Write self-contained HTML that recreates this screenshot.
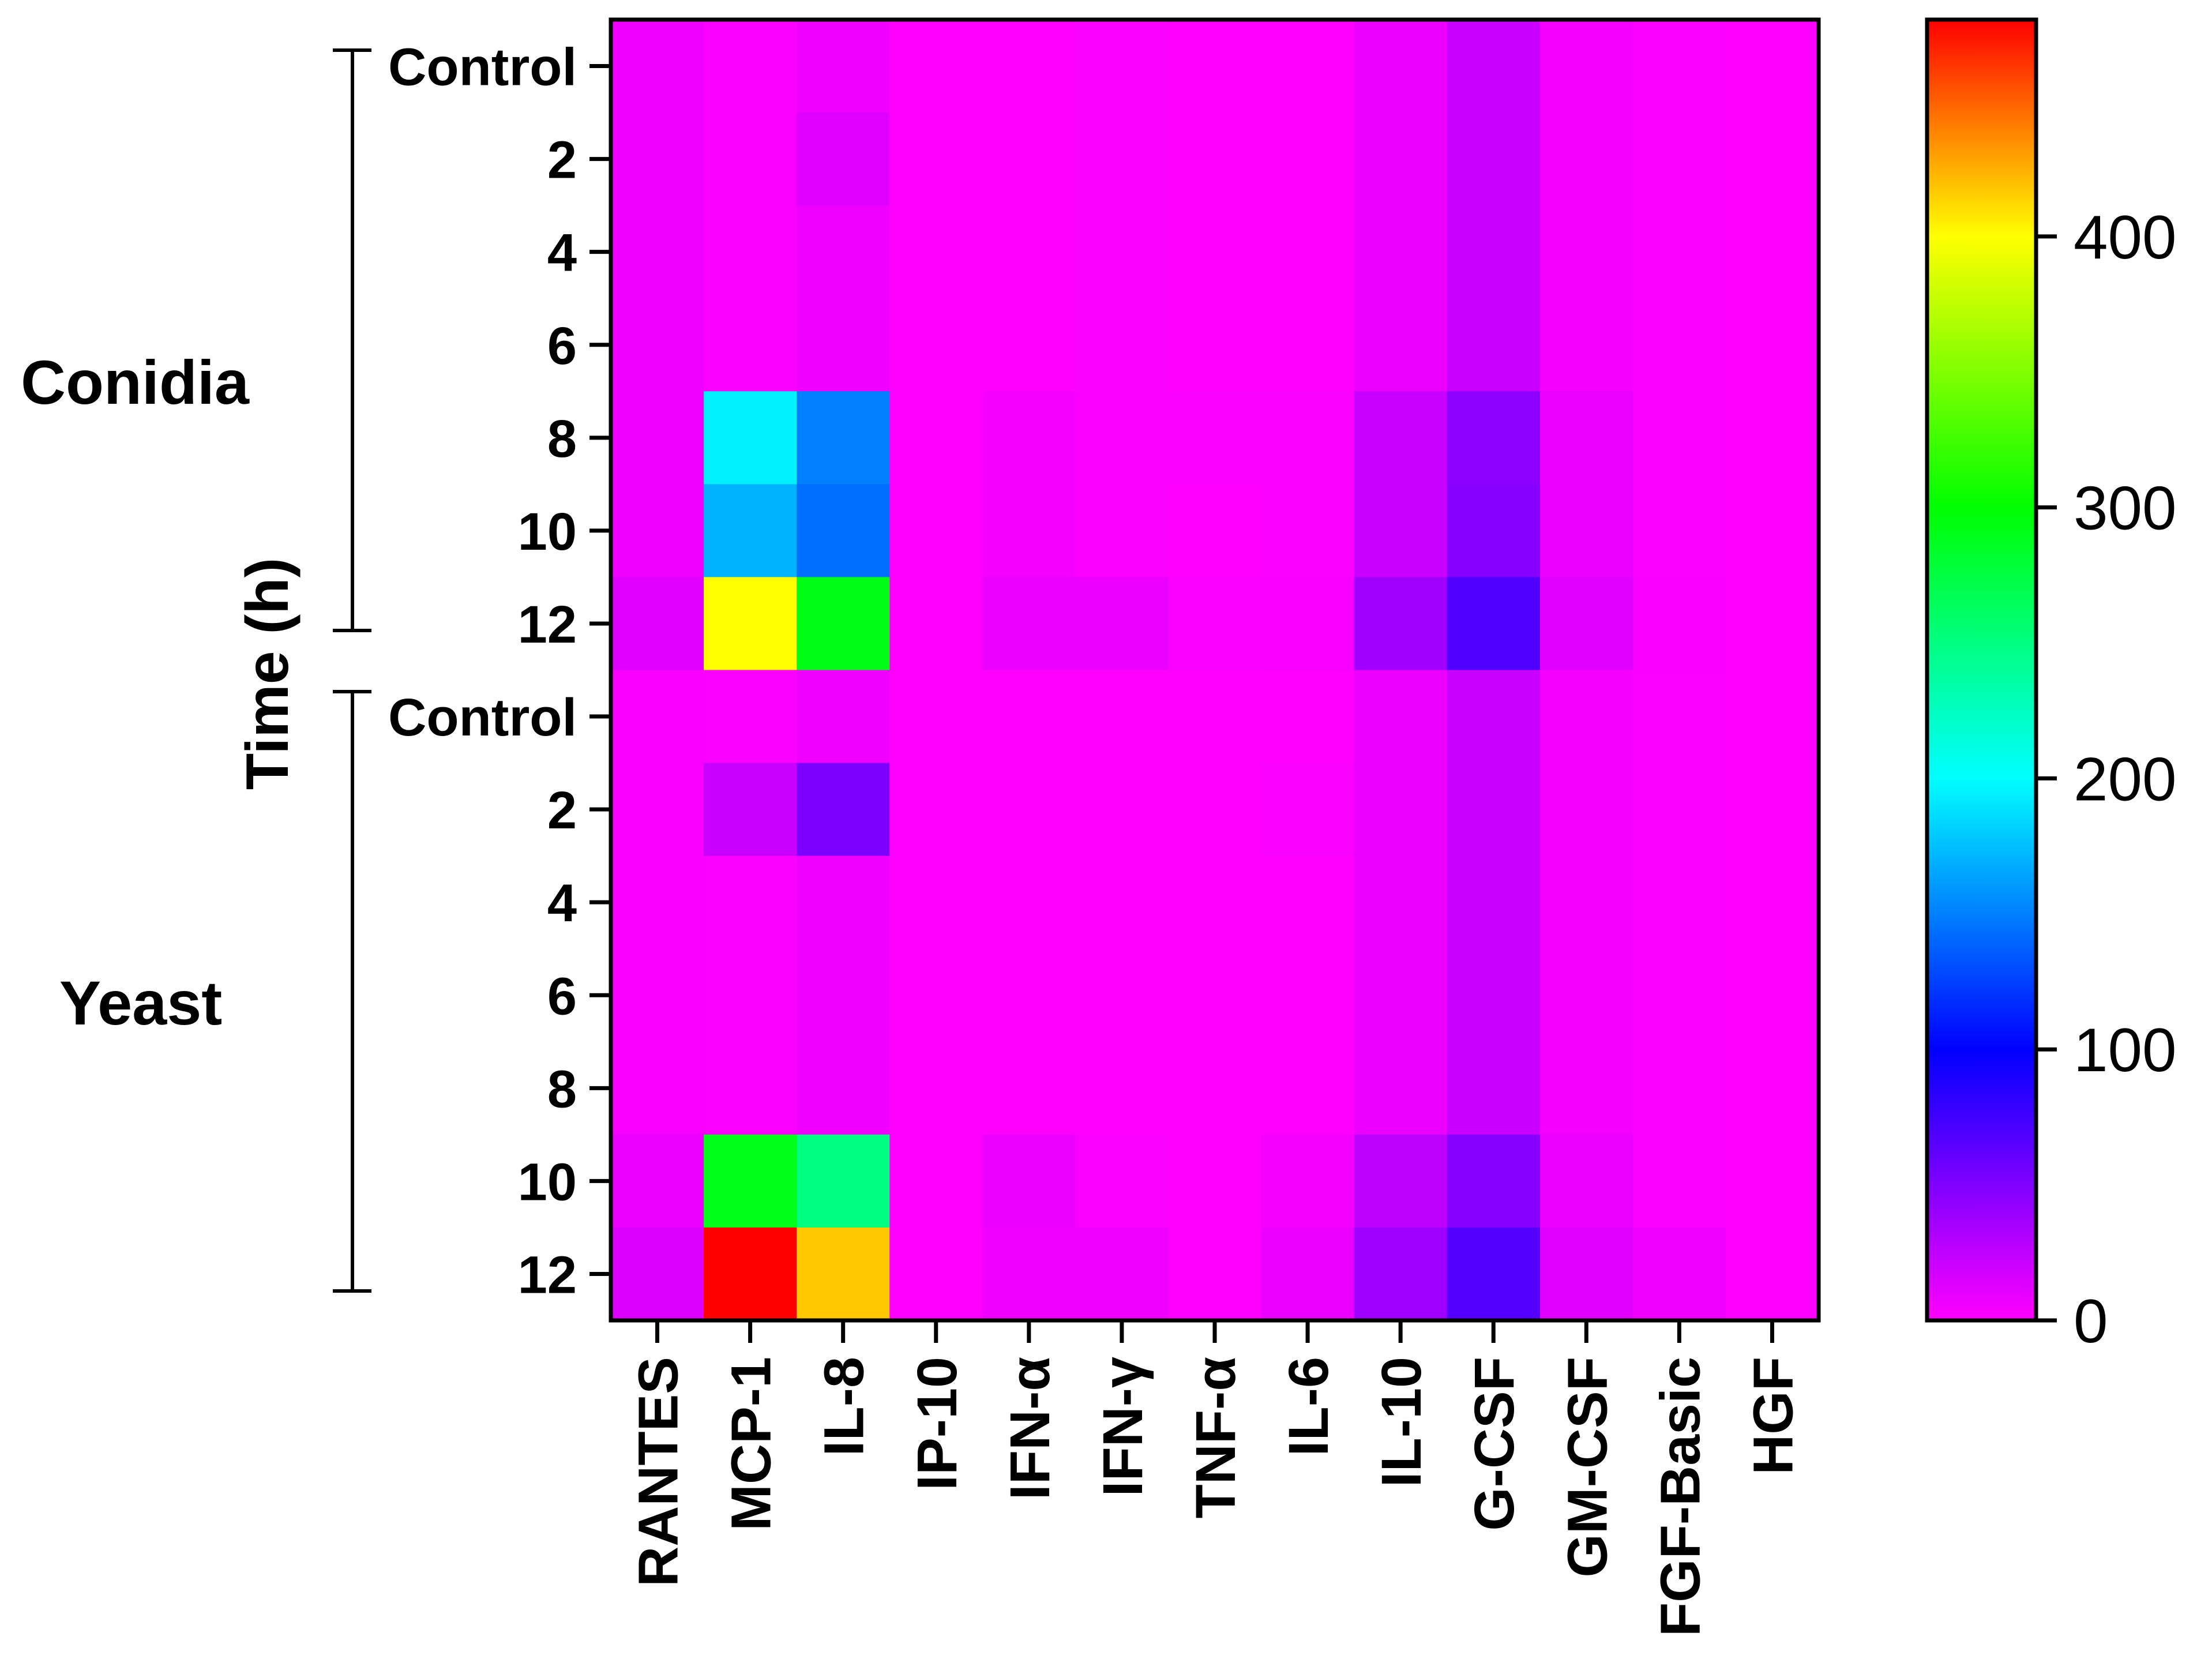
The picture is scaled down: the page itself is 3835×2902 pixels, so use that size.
<!DOCTYPE html>
<html><head><meta charset="utf-8"><style>
html,body{margin:0;padding:0;background:#fff;}
svg{display:block;font-family:"Liberation Sans",Arial,sans-serif;}
</style></head><body>
<svg id="chart" width="3835" height="2902" viewBox="0 0 3835 2902" xmlns="http://www.w3.org/2000/svg"></svg>
<script>
const columns = ["RANTES","MCP-1","IL-8","IP-10","IFN-α","IFN-γ","TNF-α","IL-6","IL-10","G-CSF","GM-CSF","FGF-Basic","HGF"];
const rowLabels = ["Control","2","4","6","8","10","12","Control","2","4","6","8","10","12"];
const colorTicks = [0,100,200,300,400];
const colorMax = 480;
// values: rows x columns
const conidiaValues = [
 [6,2,6,0,0,2,0,0,8,22,4,2,0],
 [6,2,12,0,0,2,0,0,8,22,4,2,0],
 [6,2,6,0,0,2,0,0,8,22,4,2,0],
 [6,2,6,0,0,2,0,0,8,22,4,2,0],
 [6,194,150,0,4,2,2,2,22,45,8,2,0],
 [6,170,143,0,4,2,0,2,22,47,8,2,0],
 [12,400,292,0,8,8,2,3,37,69,12,3,0]
];
const yeastValues = [
 [3,2,6,0,0,0,0,0,8,22,4,2,0],
 [3,22,51,0,0,0,0,2,8,22,4,2,0],
 [3,2,6,0,0,0,0,0,8,22,4,2,0],
 [3,2,6,0,0,0,0,0,8,22,4,2,0],
 [3,2,6,0,0,0,0,0,8,22,4,2,0],
 [8,290,250,0,8,2,0,4,25,47,8,2,0],
 [14,480,417,0,6,6,0,8,38,67,12,6,0]
];

const svg = document.getElementById('chart');
const NS = 'http://www.w3.org/2000/svg';
function mk(tag, attrs, parent){const e=document.createElementNS(NS,tag);for(const k in attrs)e.setAttribute(k,attrs[k]);(parent||svg).appendChild(e);return e;}

const X0=1059,X1=3153,Y0=34,Y1=2289;
const values = conidiaValues.concat(yeastValues);
const nR = values.length, nC = columns.length;
const cw=(X1-X0)/nC, ch=(Y1-Y0)/nR;
const xPos = i => X0 + i*cw;
const yPos = j => Y0 + j*ch;

function colorOf(v){
  v=Math.max(0,Math.min(colorMax,v));
  let r,g,b;
  if(v<=100){r=255*(1-v/100);g=0;b=255;}
  else if(v<=200){r=0;g=255*(v-100)/100;b=255;}
  else if(v<=300){r=0;g=255;b=255*(1-(v-200)/100);}
  else if(v<=400){r=255*(v-300)/100;g=255;b=0;}
  else {r=255;g=255*(1-(v-400)/(colorMax-400));b=0;}
  return `rgb(${Math.round(r)},${Math.round(g)},${Math.round(b)})`;
}

const cellG = mk('g',{});


for(let j=0;j<nR;j++)for(let i=0;i<nC;i++){
  const r = mk('rect',{x:xPos(i),y:yPos(j),width:cw+0.8,height:ch+0.8,fill:colorOf(values[j][i])},cellG);
  
  
}
const frame = mk('rect',{x:X0,y:Y0,width:X1-X0,height:Y1-Y0,fill:'none',stroke:'#000','stroke-width':7});



for(let j=0;j<nR;j++){
  const yc=yPos(j)+ch/2;
  const t=mk('line',{x1:1022,x2:X0,y1:yc,y2:yc,stroke:'#000','stroke-width':7});
  
  
  const tx=mk('text',{x:1000,y:yc+33,'text-anchor':'end','font-size':92,'font-weight':'bold'});
  tx.textContent=rowLabels[j];
  
  
}
for(let i=0;i<nC;i++){
  const xc=xPos(i)+cw/2;
  const t=mk('line',{x1:xc,x2:xc,y1:Y1,y2:2328,stroke:'#000','stroke-width':7});
  
  
  const tx=mk('text',{x:0,y:0,'text-anchor':'end','font-size':97,'font-weight':'bold',transform:`translate(${xc+35},2352) rotate(-90)`});
  tx.textContent=columns[i];
  
  
}
function bracket(y1,y2,name){
  const g=mk('g',{stroke:'#000','stroke-width':6});
  
  
  mk('line',{x1:611,x2:611,y1:y1,y2:y2},g);
  mk('line',{x1:577,x2:644,y1:y1,y2:y1},g);
  mk('line',{x1:577,x2:644,y1:y2,y2:y2},g);
}
bracket(87,1093,'conidia-bracket');
bracket(1199,2238,'yeast-bracket');
const c=mk('text',{x:36,y:700,'font-size':108,'font-weight':'bold'});c.textContent='Conidia';


const ye=mk('text',{x:103,y:1776,'font-size':108,'font-weight':'bold'});ye.textContent='Yeast';


const yt=mk('text',{x:0,y:0,'text-anchor':'middle','font-size':104,'font-weight':'bold',transform:'translate(499,1168) rotate(-90)'});yt.textContent='Time (h)';



const CX0=3341,CX1=3530;
const defs=mk('defs',{});
const grad=mk('linearGradient',{id:'cb',x1:0,y1:1,x2:0,y2:0},defs);
for(let k=0;k<=48;k++){const v=colorMax*k/48;mk('stop',{offset:k/48,'stop-color':colorOf(v)},grad);}
const cb=mk('rect',{x:CX0,y:Y0,width:CX1-CX0,height:Y1-Y0,fill:'url(#cb)',stroke:'#000','stroke-width':7});


const cy = v => Y1 - (v/colorMax)*(Y1-Y0);
colorTicks.forEach(v=>{
  const y=cy(v);
  const t=mk('line',{x1:CX1,x2:3566,y1:y,y2:y,stroke:'#000','stroke-width':7});
  
  
  const tx=mk('text',{x:3595,y:y+38,'font-size':107});
  tx.textContent=String(v);
  
  
});
</script>
</body></html>
